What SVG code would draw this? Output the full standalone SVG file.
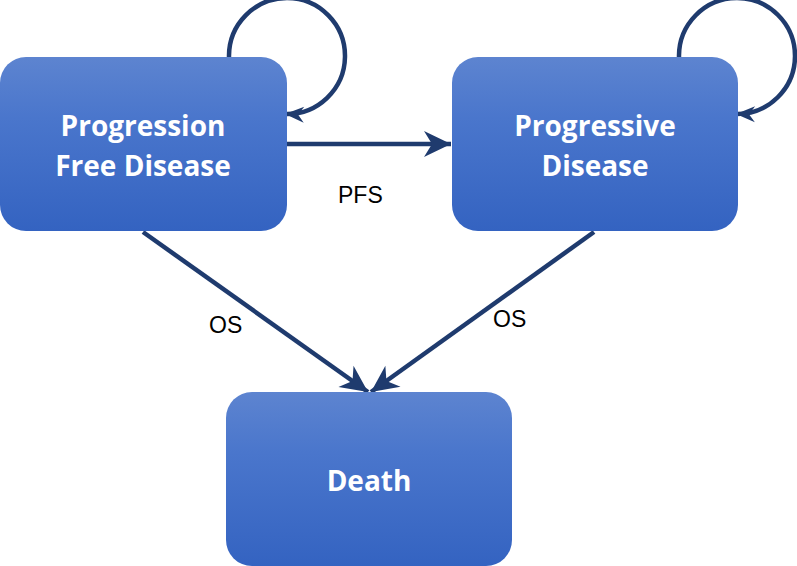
<svg xmlns="http://www.w3.org/2000/svg" width="797" height="566" viewBox="0 0 797 566">
<defs>
<linearGradient id="g" x1="0" y1="0" x2="0" y2="1">
<stop offset="0" stop-color="#5d84d0"/>
<stop offset="0.35" stop-color="#4a76cc"/>
<stop offset="1" stop-color="#3463c1"/>
</linearGradient>
<marker id="ah" markerUnits="userSpaceOnUse" markerWidth="32" markerHeight="30" viewBox="-30 -15 32 30" refX="0" refY="0" orient="auto">
<path d="M0,0 L-27,-13 L-19,0 L-27,13 Z" fill="#1f3b6e"/>
</marker>
<marker id="ah2" markerUnits="userSpaceOnUse" markerWidth="26" markerHeight="20" viewBox="-24 -10 26 20" refX="0" refY="0" orient="auto">
<path d="M0,0 L-19,-8 L-13,0 L-19,8 Z" fill="#1f3b6e"/>
</marker>
</defs>
<style>
.box{fill:url(#g);}
.lbl{font-family:"Open Sans","Noto Sans",sans-serif;font-weight:700;font-size:28px;fill:#ffffff;text-anchor:middle;}
.edge{fill:none;stroke:#1f3b6e;stroke-width:4.5;}
.elbl{font-family:"Liberation Sans",Arial,sans-serif;font-size:23px;fill:#000000;}
</style>
<rect width="797" height="566" fill="#ffffff"/>
<g id="connectors">
<path class="edge" d="M229 57 A58 58 0 1 1 285 114" marker-end="url(#ah2)"/>
<path class="edge" d="M679 57 A58 58 0 1 1 736 114" marker-end="url(#ah2)"/>
<path class="edge" d="M286 144 L451 144" marker-end="url(#ah)"/>
<path class="edge" d="M143 232 L368 392" marker-end="url(#ah)"/>
<path class="edge" d="M594 232 L371 392" marker-end="url(#ah)"/>
<text class="elbl" x="338" y="203">PFS</text>
<text class="elbl" x="209" y="333">OS</text>
<text class="elbl" x="493" y="327">OS</text>
</g>
<g id="pfd">
<rect class="box" x="0" y="57" width="287" height="174" rx="26"/>
<text class="lbl" x="143" y="136">Progression</text>
<text class="lbl" x="143" y="176">Free Disease</text>
</g>
<g id="pd">
<rect class="box" x="452" y="57" width="286" height="174" rx="26"/>
<text class="lbl" x="595" y="136">Progressive</text>
<text class="lbl" x="595" y="176">Disease</text>
</g>
<g id="death">
<rect class="box" x="226" y="392" width="286" height="174" rx="26"/>
<text class="lbl" x="369" y="491">Death</text>
</g>
</svg>
